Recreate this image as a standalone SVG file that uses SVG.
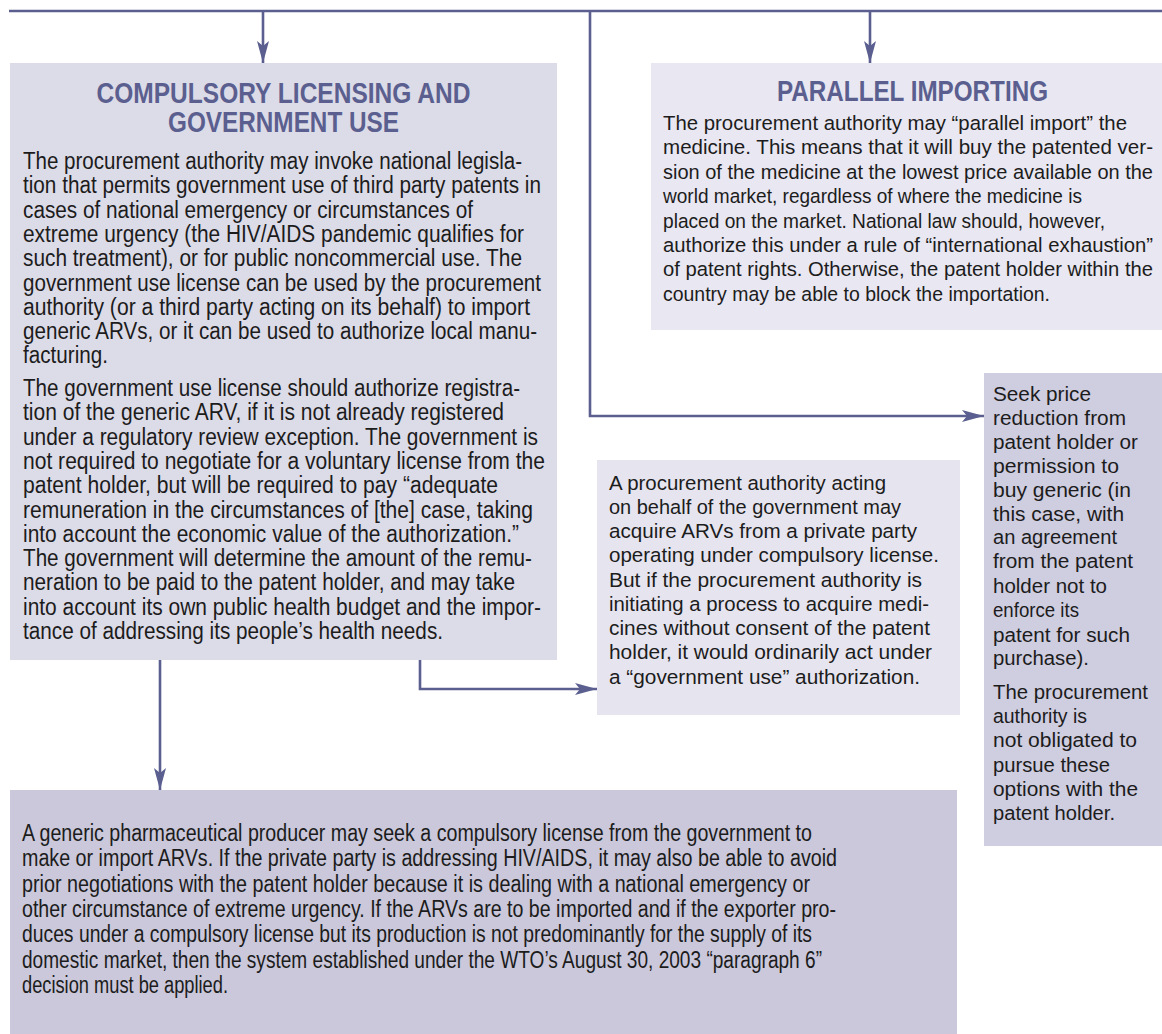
<svg xmlns="http://www.w3.org/2000/svg" width="1162" height="1034" viewBox="0 0 1162 1034">
  <style>
    .conn { fill: none; stroke: #5b5f8f; stroke-width: 2.6; }
    .head { font-family: "Liberation Sans", Arial, sans-serif; font-size: 29px; font-weight: bold; fill: #5b5f8f; text-anchor: middle; }
    .body { font-family: "Liberation Sans", Arial, sans-serif; fill: #1c1c1c; }
    .b1 { font-size: 23px; }
    .b2 { font-size: 20.5px; }
    .b3 { font-size: 20.5px; }
    .b4 { font-size: 20px; }
    .b5 { font-size: 23px; }
  </style>
  <defs>
    <marker id="arrow" markerUnits="userSpaceOnUse" viewBox="0 0 22 12" markerWidth="22" markerHeight="12" refX="22" refY="6" orient="auto">
      <path d="M0,0 L22,6 L0,12 L5,6 Z" fill="#5b5f8f"/>
    </marker>
  </defs>
  <rect width="1162" height="1034" fill="#ffffff"/>

  <!-- connectors -->
  <g id="connectors">
    <path class="conn" d="M9,11 H1162" stroke-width="3"/>
    <path class="conn" d="M263,11 V63" marker-end="url(#arrow)"/>
    <path class="conn" d="M870,11 V63" marker-end="url(#arrow)"/>
    <path class="conn" d="M590,11 V416 H984" marker-end="url(#arrow)"/>
    <path class="conn" d="M160,660 V790" marker-end="url(#arrow)"/>
    <path class="conn" d="M420,660 V689 H597" marker-end="url(#arrow)"/>
  </g>

  <!-- compulsory licensing and government use -->
  <g id="compulsory-licensing">
    <rect x="10" y="63" width="547" height="597" fill="#dcdbe8"/>
    <text class="head" x="283.5" y="103" textLength="374" lengthAdjust="spacingAndGlyphs">COMPULSORY LICENSING AND</text>
    <text class="head" x="283.5" y="132" textLength="231" lengthAdjust="spacingAndGlyphs">GOVERNMENT USE</text>
    <g class="body b1">
      <text x="23" y="169" textLength="499" lengthAdjust="spacingAndGlyphs">The procurement authority may invoke national legisla-</text>
      <text x="23" y="193.3" textLength="518" lengthAdjust="spacingAndGlyphs">tion that permits government use of third party patents in</text>
      <text x="23" y="217.6" textLength="450" lengthAdjust="spacingAndGlyphs">cases of national emergency or circumstances of</text>
      <text x="23" y="241.9" textLength="501" lengthAdjust="spacingAndGlyphs">extreme urgency (the HIV/AIDS pandemic qualifies for</text>
      <text x="23" y="266.2" textLength="499" lengthAdjust="spacingAndGlyphs">such treatment), or for public noncommercial use. The</text>
      <text x="23" y="290.5" textLength="518" lengthAdjust="spacingAndGlyphs">government use license can be used by the procurement</text>
      <text x="23" y="314.8" textLength="507" lengthAdjust="spacingAndGlyphs">authority (or a third party acting on its behalf) to import</text>
      <text x="23" y="339.1" textLength="514" lengthAdjust="spacingAndGlyphs">generic ARVs, or it can be used to authorize local manu-</text>
      <text x="23" y="363.4" textLength="85" lengthAdjust="spacingAndGlyphs">facturing.</text>
      <text x="23" y="396" textLength="497" lengthAdjust="spacingAndGlyphs">The government use license should authorize registra-</text>
      <text x="23" y="420.3" textLength="481" lengthAdjust="spacingAndGlyphs">tion of the generic ARV, if it is not already registered</text>
      <text x="23" y="444.6" textLength="515" lengthAdjust="spacingAndGlyphs">under a regulatory review exception. The government is</text>
      <text x="23" y="468.9" textLength="522" lengthAdjust="spacingAndGlyphs">not required to negotiate for a voluntary license from the</text>
      <text x="23" y="493.2" textLength="475" lengthAdjust="spacingAndGlyphs">patent holder, but will be required to pay “adequate</text>
      <text x="23" y="517.5" textLength="510" lengthAdjust="spacingAndGlyphs">remuneration in the circumstances of [the] case, taking</text>
      <text x="23" y="541.8" textLength="496" lengthAdjust="spacingAndGlyphs">into account the economic value of the authorization.”</text>
      <text x="23" y="566.1" textLength="509" lengthAdjust="spacingAndGlyphs">The government will determine the amount of the remu-</text>
      <text x="23" y="590.4" textLength="492" lengthAdjust="spacingAndGlyphs">neration to be paid to the patent holder, and may take</text>
      <text x="23" y="614.7" textLength="518" lengthAdjust="spacingAndGlyphs">into account its own public health budget and the impor-</text>
      <text x="23" y="639" textLength="420" lengthAdjust="spacingAndGlyphs">tance of addressing its people’s health needs.</text>
    </g>
  </g>

  <!-- parallel importing -->
  <g id="parallel-importing">
    <rect x="651" y="63" width="511" height="267" fill="#e9e7f1"/>
    <text class="head" x="912.5" y="101" textLength="271" lengthAdjust="spacingAndGlyphs">PARALLEL IMPORTING</text>
    <g class="body b2">
      <text x="663" y="130" textLength="464" lengthAdjust="spacingAndGlyphs">The procurement authority may “parallel import” the</text>
      <text x="663" y="154.4" textLength="490" lengthAdjust="spacingAndGlyphs">medicine. This means that it will buy the patented ver-</text>
      <text x="663" y="178.8" textLength="490" lengthAdjust="spacingAndGlyphs">sion of the medicine at the lowest price available on the</text>
      <text x="663" y="203.2" textLength="419" lengthAdjust="spacingAndGlyphs">world market, regardless of where the medicine is</text>
      <text x="663" y="227.6" textLength="442" lengthAdjust="spacingAndGlyphs">placed on the market. National law should, however,</text>
      <text x="663" y="252" textLength="490" lengthAdjust="spacingAndGlyphs">authorize this under a rule of “international exhaustion”</text>
      <text x="663" y="276.4" textLength="490" lengthAdjust="spacingAndGlyphs">of patent rights. Otherwise, the patent holder within the</text>
      <text x="663" y="300.8" textLength="387" lengthAdjust="spacingAndGlyphs">country may be able to block the importation.</text>
    </g>
  </g>

  <!-- procurement authority acting for the government -->
  <g id="government-use-purchase">
    <rect x="597" y="460" width="363" height="255" fill="#e6e5ef"/>
    <g class="body b3">
      <text x="609" y="489.5" textLength="277" lengthAdjust="spacingAndGlyphs">A procurement authority acting</text>
      <text x="609" y="513.8" textLength="292" lengthAdjust="spacingAndGlyphs">on behalf of the government may</text>
      <text x="609" y="538" textLength="308" lengthAdjust="spacingAndGlyphs">acquire ARVs from a private party</text>
      <text x="609" y="562.3" textLength="330" lengthAdjust="spacingAndGlyphs">operating under compulsory license.</text>
      <text x="609" y="586.5" textLength="313" lengthAdjust="spacingAndGlyphs">But if the procurement authority is</text>
      <text x="609" y="610.8" textLength="320" lengthAdjust="spacingAndGlyphs">initiating a process to acquire medi-</text>
      <text x="609" y="635" textLength="321" lengthAdjust="spacingAndGlyphs">cines without consent of the patent</text>
      <text x="609" y="659.3" textLength="323" lengthAdjust="spacingAndGlyphs">holder, it would ordinarily act under</text>
      <text x="609" y="683.5" textLength="311" lengthAdjust="spacingAndGlyphs">a “government use” authorization.</text>
    </g>
  </g>

  <!-- negotiation with the patent holder -->
  <g id="seek-price-reduction">
    <rect x="984" y="373" width="178" height="473" fill="#cfcde0"/>
    <g class="body b4">
      <text x="993" y="401" textLength="98" lengthAdjust="spacingAndGlyphs">Seek price</text>
      <text x="993" y="424.9" textLength="133" lengthAdjust="spacingAndGlyphs">reduction from</text>
      <text x="993" y="448.8" textLength="145" lengthAdjust="spacingAndGlyphs">patent holder or</text>
      <text x="993" y="472.7" textLength="126" lengthAdjust="spacingAndGlyphs">permission to</text>
      <text x="993" y="496.6" textLength="138" lengthAdjust="spacingAndGlyphs">buy generic (in</text>
      <text x="993" y="520.5" textLength="131" lengthAdjust="spacingAndGlyphs">this case, with</text>
      <text x="993" y="544.4" textLength="124" lengthAdjust="spacingAndGlyphs">an agreement</text>
      <text x="993" y="568.3" textLength="140" lengthAdjust="spacingAndGlyphs">from the patent</text>
      <text x="993" y="592.5" textLength="114" lengthAdjust="spacingAndGlyphs">holder not to</text>
      <text x="993" y="617" textLength="86" lengthAdjust="spacingAndGlyphs">enforce its</text>
      <text x="993" y="641.5" textLength="137" lengthAdjust="spacingAndGlyphs">patent for such</text>
      <text x="993" y="665" textLength="96" lengthAdjust="spacingAndGlyphs">purchase).</text>
      <text x="993" y="699" textLength="155" lengthAdjust="spacingAndGlyphs">The procurement</text>
      <text x="993" y="723.2" textLength="94" lengthAdjust="spacingAndGlyphs">authority is</text>
      <text x="993" y="747.4" textLength="144" lengthAdjust="spacingAndGlyphs">not obligated to</text>
      <text x="993" y="771.6" textLength="117" lengthAdjust="spacingAndGlyphs">pursue these</text>
      <text x="993" y="795.8" textLength="145" lengthAdjust="spacingAndGlyphs">options with the</text>
      <text x="993" y="820" textLength="122" lengthAdjust="spacingAndGlyphs">patent holder.</text>
    </g>
  </g>

  <!-- compulsory license sought by a generic producer -->
  <g id="generic-producer">
    <rect x="10" y="790" width="947" height="244" fill="#cac8da"/>
    <g class="body b5">
      <text x="22" y="841" textLength="790" lengthAdjust="spacingAndGlyphs">A generic pharmaceutical producer may seek a compulsory license from the government to</text>
      <text x="22" y="866.3" textLength="815" lengthAdjust="spacingAndGlyphs">make or import ARVs. If the private party is addressing HIV/AIDS, it may also be able to avoid</text>
      <text x="22" y="891.6" textLength="788" lengthAdjust="spacingAndGlyphs">prior negotiations with the patent holder because it is dealing with a national emergency or</text>
      <text x="22" y="916.9" textLength="814" lengthAdjust="spacingAndGlyphs">other circumstance of extreme urgency. If the ARVs are to be imported and if the exporter pro-</text>
      <text x="22" y="942.2" textLength="790" lengthAdjust="spacingAndGlyphs">duces under a compulsory license but its production is not predominantly for the supply of its</text>
      <text x="22" y="967.5" textLength="800" lengthAdjust="spacingAndGlyphs">domestic market, then the system established under the WTO’s August 30, 2003 “paragraph 6”</text>
      <text x="22" y="992.8" textLength="206" lengthAdjust="spacingAndGlyphs">decision must be applied.</text>
    </g>
  </g>
</svg>
